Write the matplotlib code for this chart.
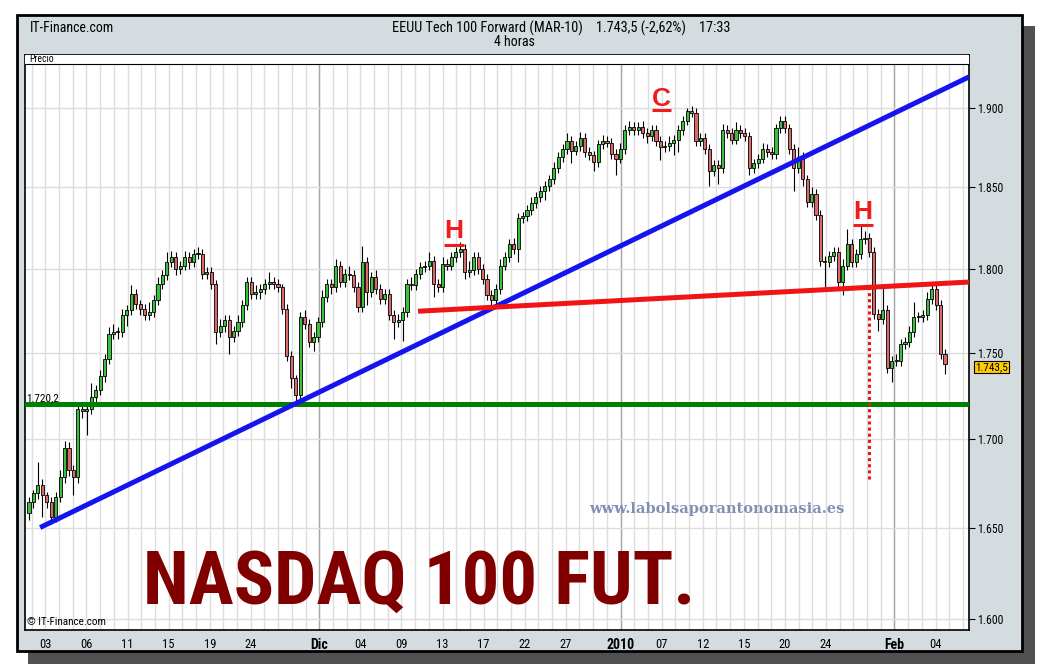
import numpy as np
import matplotlib
matplotlib.use('Agg')
import matplotlib.pyplot as plt
import matplotlib.font_manager as fm
from matplotlib.patches import Rectangle

# 4-hour candles, NASDAQ 100 futures (MAR-10), early Nov 2009 -> 05 Feb 2010
first_open = 1658
closes = [
    1664, 1669, 1674, 1668, 1664, 1656, 1667, 1678, 1695, 1682,
    1678, 1717, 1716, 1717, 1724, 1728, 1736, 1746, 1761, 1762,
    1762, 1772, 1775, 1785, 1779, 1776, 1772, 1774, 1781, 1791,
    1796, 1804, 1807, 1800, 1802, 1807, 1804, 1809, 1809, 1797,
    1798, 1791, 1762, 1766, 1769, 1759, 1763, 1768, 1778, 1792,
    1785, 1786, 1788, 1791, 1792, 1791, 1789, 1776, 1748, 1735,
    1725, 1771, 1767, 1756, 1759, 1768, 1783, 1791, 1789, 1802,
    1792, 1797, 1796, 1789, 1777, 1804, 1786, 1795, 1788, 1782,
    1785, 1772, 1768, 1769, 1774, 1791, 1790, 1797, 1801, 1802,
    1805, 1791, 1789, 1803, 1802, 1807, 1810, 1812, 1798, 1799,
    1807, 1800, 1794, 1784, 1781, 1788, 1802, 1807, 1815, 1812,
    1831, 1832, 1836, 1840, 1844, 1848, 1851, 1855, 1862, 1869,
    1874, 1879, 1873, 1876, 1881, 1872, 1870, 1866, 1877, 1879,
    1878, 1871, 1868, 1874, 1886, 1888, 1886, 1888, 1884, 1882,
    1886, 1879, 1875, 1876, 1878, 1880, 1886, 1892, 1898, 1897,
    1879, 1881, 1874, 1860, 1864, 1862, 1886, 1884, 1880, 1886,
    1884, 1882, 1862, 1865, 1868, 1874, 1872, 1871, 1887, 1892,
    1887, 1874, 1862, 1869, 1855, 1841, 1846, 1833, 1805, 1804,
    1808, 1810, 1792, 1802, 1815, 1804, 1809, 1818, 1819, 1810,
    1773, 1770, 1775, 1741, 1745, 1745, 1755, 1756, 1762, 1771,
    1771, 1772, 1782, 1788, 1778, 1749, 1743.5,
]
wick_up = [
    3, 2, 13, 3, 2, 3, 3, 4, 4, 3,
    3, 4, 3, 3, 8, 3, 4, 3, 4, 5,
    3, 4, 3, 5, 3, 2, 3, 6, 3, 4,
    3, 6, 4, 3, 3, 4, 3, 3, 4, 3,
    3, 3, 2, 4, 3, 3, 3, 4, 3, 3,
    3, 4, 3, 3, 6, 3, 3, 2, 3, 3,
    2, 3, 4, 3, 3, 3, 4, 3, 3, 4,
    3, 3, 5, 3, 3, 10, 3, 3, 4, 3,
    3, 3, 3, 4, 3, 3, 4, 3, 3, 3,
    5, 3, 3, 4, 3, 3, 3, 4, 3, 6,
    3, 3, 3, 3, 3, 3, 4, 3, 3, 4,
    3, 3, 3, 4, 3, 3, 3, 3, 4, 3,
    3, 5, 3, 3, 4, 3, 3, 3, 3, 4,
    3, 3, 3, 4, 3, 4, 3, 3, 4, 3,
    3, 3, 3, 3, 4, 3, 3, 3, 2, 3,
    3, 3, 3, 3, 3, 3, 4, 3, 3, 5,
    3, 3, 3, 3, 3, 4, 3, 3, 3, 3,
    3, 3, 3, 6, 3, 3, 4, 3, 3, 3,
    3, 3, 3, 4, 9, 3, 3, 8, 4, 3,
    3, 3, 14, 3, 3, 4, 3, 3, 4, 9,
    3, 3, 4, 3, 3, 3, 3,
]
wick_dn = [
    4, 3, 3, 12, 3, 4, 3, 3, 3, 3,
    10, 3, 4, 14, 3, 3, 3, 3, 3, 3,
    4, 3, 6, 3, 3, 4, 3, 3, 3, 3,
    3, 3, 3, 4, 3, 3, 4, 3, 3, 3,
    3, 3, 7, 3, 4, 10, 3, 3, 3, 3,
    3, 3, 4, 3, 3, 3, 3, 3, 3, 6,
    4, 3, 3, 3, 5, 3, 3, 3, 4, 3,
    3, 3, 3, 3, 3, 3, 8, 3, 3, 3,
    3, 3, 10, 3, 12, 3, 3, 3, 3, 3,
    3, 8, 3, 3, 3, 3, 3, 3, 4, 3,
    3, 3, 3, 3, 6, 3, 3, 3, 3, 3,
    8, 3, 3, 3, 3, 3, 6, 3, 3, 3,
    3, 3, 8, 3, 3, 3, 3, 6, 3, 3,
    3, 3, 10, 3, 3, 3, 3, 3, 3, 4,
    3, 3, 8, 3, 3, 8, 8, 3, 3, 3,
    3, 3, 3, 9, 3, 10, 3, 3, 3, 3,
    3, 3, 4, 3, 3, 3, 3, 3, 3, 3,
    3, 3, 14, 3, 4, 3, 3, 3, 3, 15,
    3, 3, 4, 8, 3, 3, 3, 3, 3, 3,
    3, 7, 3, 3, 8, 3, 3, 3, 3, 3,
    3, 3, 3, 3, 3, 3, 6,
]

# x axis: trading-day index of each label
tick_day = [1, 4, 7, 10, 13, 16, 21, 24, 27, 30, 33, 36, 39, 43, 46, 49, 52, 55, 58, 63, 66]
tick_labels = ['03', '06', '11', '15', '19', '24', 'Dic', '04', '09', '13', '17', '22', '27',
               '2010', '07', '12', '15', '20', '24', 'Feb', '04']
month_labels = ['Dic', '2010', 'Feb']

price_ticks = [1600, 1650, 1700, 1750, 1800, 1850, 1900]
price_labels = ['1.600', '1.650', '1.700', '1.750', '1.800', '1.850', '1.900']

support_level = 1720.2
trend_blue = ([2.5, 211.4], [1650, 1920])
neckline = ([87.5, 211.4], [1774.5, 1792])
last_price = '1.743,5'

W, H = 1040, 670
def fx(px):
    return px / W
def fy(py):
    return 1 - py / H

# pick an Arial-Narrow-like face if one is installed
installed = {f.name for f in fm.fontManager.ttflist}
narrow_pref = ['Liberation Sans Narrow', 'Arial Narrow', 'Roboto Condensed', 'PT Sans Narrow',
               'Archivo Narrow', 'Open Sans Condensed', 'Asap Condensed']
narrow = [n for n in narrow_pref if n in installed][:1]
NARROW = narrow + ['Liberation Sans', 'DejaVu Sans']
SANS = ['Liberation Sans', 'DejaVu Sans']

fig = plt.figure(figsize=(10.4, 6.7), dpi=100)
fig.patch.set_facecolor('white')

# shadow and grey panel
fig.patches.append(Rectangle((fx(28), fy(664)), fx(1035) - fx(28), fy(26) - fy(664),
                             transform=fig.transFigure, facecolor='#505050',
                             edgecolor='none', zorder=-3))
fig.patches.append(Rectangle((fx(17), fy(651)), fx(1022) - fx(17), fy(15) - fy(651),
                             transform=fig.transFigure, facecolor='#d4dce0',
                             edgecolor='black', linewidth=2, zorder=-2))

ax = fig.add_axes([fx(25), fy(630), fx(969) - fx(25), fy(55) - fy(630)])
ax.set_facecolor('white')
ax.set_yscale('log')
ax.set_ylim(1594.1, 1934.2)
ax.set_xlim(-0.9, 211.4)

# grid
for k in range(70):
    ax.axvline(0.6 + 3.08 * k, color='#dddddd', lw=1, zorder=1)
for k, lab in zip(tick_day, tick_labels):
    if lab in month_labels:
        ax.axvline(0.6 + 3.08 * k, color='#a8a8a8', lw=1, zorder=1)
for p in price_ticks:
    ax.axhline(p, color='#dddddd', lw=1, zorder=1)

# candles
c = np.array(closes, dtype=float)
o = np.r_[first_open, c[:-1]]
x = np.arange(len(c))
lo_body = np.minimum(o, c)
hi_body = np.maximum(o, c)
ax.vlines(x, lo_body - np.array(wick_dn), hi_body + np.array(wick_up),
          color='black', lw=0.8, zorder=3)
cols = np.where(c >= o, '#3cbf3c', '#d86a6a')
ax.bar(x, np.maximum(hi_body - lo_body, 0.8), bottom=lo_body, width=0.7,
       color=cols, edgecolor='black', linewidth=0.6, zorder=4)

# drawn lines
ax.axhline(support_level, color='#008000', lw=3.6, zorder=5)
ax.plot(*trend_blue, color='#1414f0', lw=3.6, zorder=5, solid_capstyle='butt')
ax.plot(*neckline, color='#f01414', lw=3.6, zorder=5, solid_capstyle='butt')
ax.plot([188.9, 188.9], [1677, 1789], color='#f01414', lw=2.2, ls=(0, (1, 1)), zorder=5)

# H / C / H labels
for xc, yb, yu, half, lab in [(95.6, 1818.7, 1814.5, 2.2, 'H'),
                              (142.3, 1901.5, 1898.5, 2.1, 'C'),
                              (187.6, 1830.5, 1826.5, 2.2, 'H')]:
    ax.text(xc, yb, lab, ha='center', va='baseline', color='#ee1c1c',
            fontsize=19, fontweight='bold', family=SANS, zorder=6)
    ax.plot([xc - half, xc + half], [yu, yu], color='#ee1c1c', lw=2.2,
            solid_capstyle='butt', zorder=6)

# axes ticks
ax.yaxis.tick_right()
ax.set_yticks(price_ticks, labels=price_labels)
ax.minorticks_off()
ax.tick_params(axis='y', length=4, pad=2, width=0.8)
ax.set_xticks([0.6 + 3.08 * k for k in tick_day], labels=tick_labels)
ax.tick_params(axis='x', length=0, pad=6)
for t in ax.get_xticklabels():
    t.set_family(NARROW)
    t.set_fontsize(9)
    if t.get_text() in month_labels:
        t.set_fontweight('bold')
        t.set_fontsize(10)
for t in ax.get_yticklabels():
    t.set_family(NARROW)
    t.set_fontsize(8.5)
for s in ax.spines.values():
    s.set_linewidth(1.2)
    s.set_color('black')

# "Precio" strip at top of the price panel
strip = 1 - 9 / 575
ax.add_patch(Rectangle((0, strip), 1, 1 - strip, transform=ax.transAxes,
                       facecolor='white', edgecolor='none', zorder=7))
ax.plot([0, 1], [strip, strip], transform=ax.transAxes, color='black', lw=0.8, zorder=8)
ax.text(0.004, (1 + strip) / 2, 'Precio', transform=ax.transAxes, fontsize=7,
        va='center', family=NARROW, zorder=9)

# header
fig.text(fx(30), fy(28), 'IT-Finance.com', fontsize=10, va='center', family=NARROW)
head = fig.text(fx(561), fy(28), 'EEUU Tech 100 Forward (MAR-10)    1.743,5 (-2,62%)    17:33',
                fontsize=10, va='center', ha='center', family=NARROW)
fig.text(fx(514), fy(42), '4 horas', fontsize=10, va='center', ha='center', family=NARROW)

# overlay texts
fig.text(fx(26), fy(398), '1.720,2', fontsize=8, va='center', family=NARROW)
fig.text(fx(27), fy(622), '\u00a9 IT-Finance.com', fontsize=8, va='center', family=NARROW)
fig.text(fx(975), fy(367), last_price, fontsize=8, va='center', family=NARROW,
         bbox=dict(boxstyle='square,pad=0.12', facecolor='#ffcc00', edgecolor='black', lw=0.8))
fig.text(fx(717), fy(509), 'www.labolsaporantonomasia.es', fontsize=10.5, ha='center',
         va='center', color='#8090b4', fontweight='bold', family='DejaVu Serif')
big = fig.text(fx(143), fy(604), 'NASDAQ 100 FUT.', fontsize=55, va='baseline',
               color='#800000', fontweight='bold', family=NARROW)

# fit the big title and the header line to the reference widths
renderer = fig.canvas.get_renderer()
for t, target in [(big, 552), (head, 337)]:
    w = t.get_window_extent(renderer).width
    t.set_fontsize(t.get_fontsize() * target / w)

fig.savefig('out.png', dpi=100, facecolor='white')
